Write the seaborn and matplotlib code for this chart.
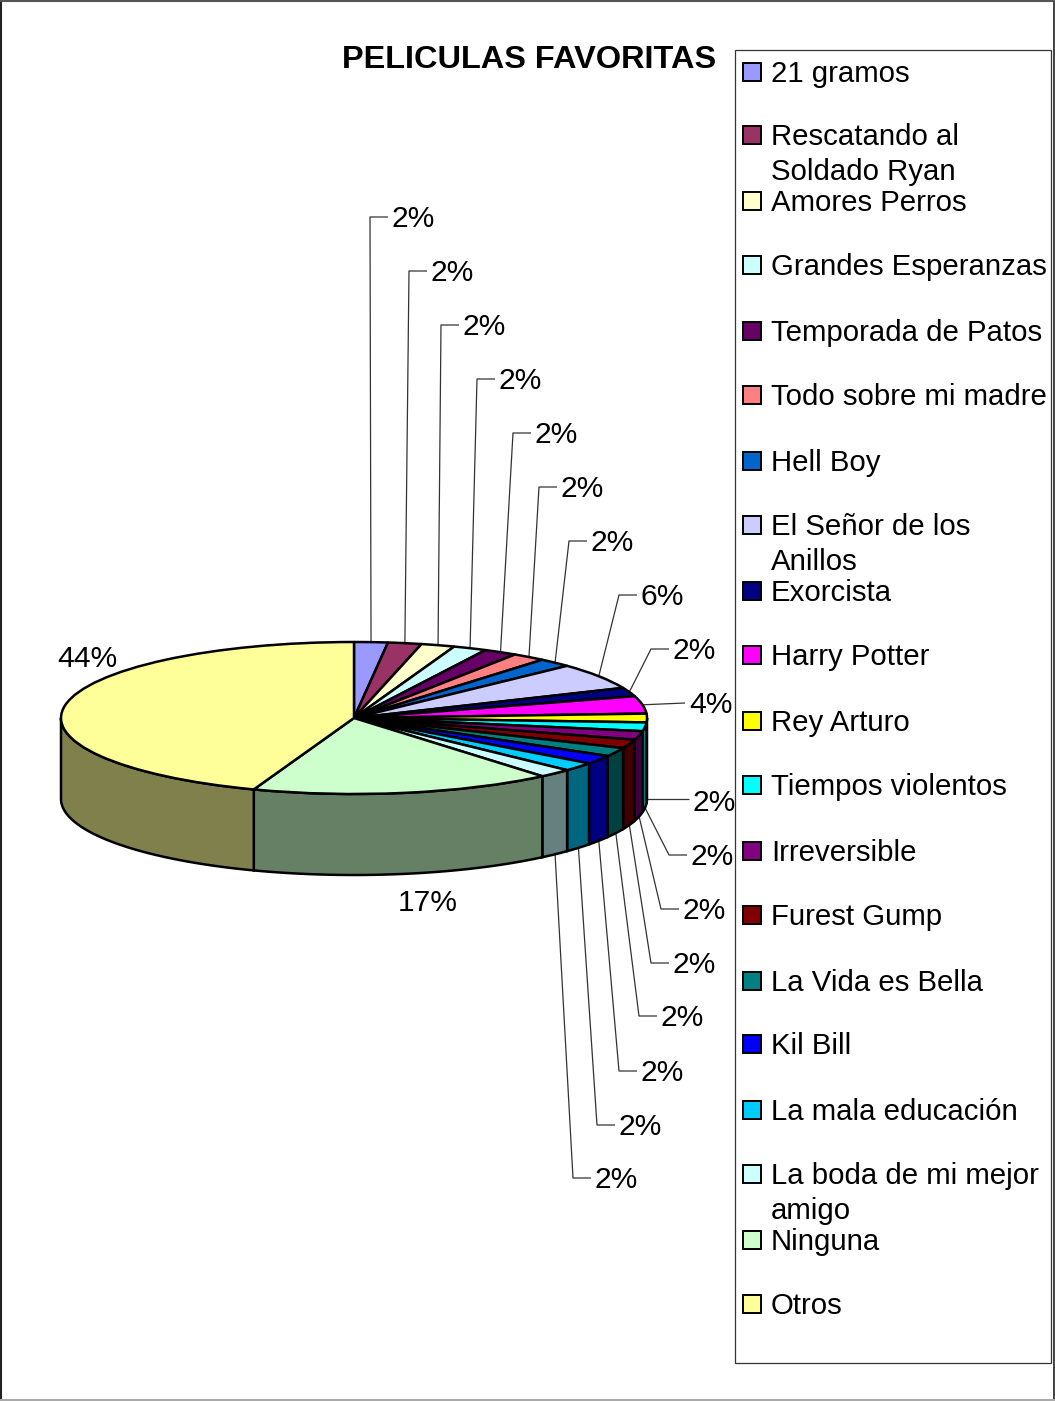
import numpy as np
import matplotlib
matplotlib.use("Agg")
import matplotlib.pyplot as plt
from matplotlib.patches import Rectangle, Polygon
from matplotlib.colors import to_rgb
import seaborn as sns

title = "PELICULAS FAVORITAS"
names = ["21 gramos", "Rescatando al\nSoldado Ryan", "Amores Perros", "Grandes Esperanzas",
         "Temporada de Patos", "Todo sobre mi madre", "Hell Boy", "El Señor de los\nAnillos",
         "Exorcista", "Harry Potter", "Rey Arturo", "Tiempos violentos", "Irreversible",
         "Furest Gump", "La Vida es Bella", "Kil Bill", "La mala educación",
         "La boda de mi mejor\namigo", "Ninguna", "Otros"]
counts = [1, 1, 1, 1, 1, 1, 1, 3, 1, 2, 1, 1, 1, 1, 1, 1, 1, 1, 9, 24]
pct_labels = ["2%", "2%", "2%", "2%", "2%", "2%", "2%", "6%", "2%", "4%", "2%", "2%", "2%",
              "2%", "2%", "2%", "2%", "2%", "17%", "44%"]
colors = ["#9999FF", "#993366", "#FFFFCC", "#CCFFFF", "#660066", "#FF8080", "#0066CC", "#CCCCFF",
          "#000080", "#FF00FF", "#FFFF00", "#00FFFF", "#800080", "#800000", "#008080", "#0000FF",
          "#00CCFF", "#CCFFFF", "#CCFFCC", "#FFFF99"]

# layout (pixels in the image, y downward)
W, H = 1055, 1401
CX, CY, RX, RY, DEPTH = 354, 718, 293, 76, 81
label_xy = [(392, 217), (431, 271), (463, 325), (499, 379), (535, 433), (561, 487), (591, 541),
            (641, 595), (673, 649), (689, 703), (693, 801), (691, 855), (683, 909), (673, 963),
            (661, 1016), (641, 1071), (619, 1125), (595, 1178), (398, 901), (57, 657)]
legend_y = [72, 135, 201, 265, 331, 395, 461, 525, 591, 655, 721, 785, 851, 915, 981, 1044,
            1110, 1174, 1240, 1304]

sns.set_theme(style="white")
plt.rcParams["font.family"] = ["Liberation Sans", "DejaVu Sans"]
palette = sns.color_palette(colors)

fig = plt.figure(figsize=(W / 100, H / 100), dpi=100, facecolor="white")
ax = fig.add_axes([0, 0, 1, 1])

def px(x, y):
    return (x - CX) / RX, (CY - y) / RY

# top face
ax.pie(counts, colors=palette, startangle=90, counterclock=False, radius=1,
       wedgeprops=dict(edgecolor="black", linewidth=1.8, joinstyle="round", zorder=3))
ax.set_aspect("auto")
ax.set_xlim(px(0, 0)[0], px(W, 0)[0])
ax.set_ylim(px(0, H)[1], px(0, 0)[1])
ax.set_axis_off()

# side wall of the visible front half
fracs = np.array(counts) / np.sum(counts) * 360
ends = np.cumsum(fracs)
starts = ends - fracs
d = DEPTH / RY
for a, b, c in zip(starts, ends, palette):
    lo, hi = max(a, 90), min(b, 270)
    if hi <= lo:
        continue
    t = np.radians(np.linspace(lo, hi, 60))
    xs, ys = np.sin(t), np.cos(t)
    verts = np.r_[np.c_[xs, ys], np.c_[xs[::-1], ys[::-1] - d]]
    dark = tuple(v * 0.5 for v in to_rgb(c))
    ax.add_patch(Polygon(verts, closed=True, facecolor=dark, edgecolor="black",
                         linewidth=1.8, zorder=2))

# data labels and their leaders
mids = (starts + ends) / 2
for i, (lab, (lx, ly), m) in enumerate(zip(pct_labels, label_xy, mids)):
    ax.text(*px(lx, ly + 2), lab, fontsize=21.6, color="black", ha="left", va="center", zorder=6)
    if lab in ("17%", "44%"):
        continue
    t = np.radians(m)
    ax_, ay_ = np.sin(t), np.cos(t) - (d if m >= 90 else 0)
    ex, ey = px(lx - 4, ly)
    if lab == "4%":
        xs_, ys_ = [ax_, ex], [ay_, ey]
    elif i == 10:
        xs_, ys_ = [ax_, ex], [ay_, ay_]
    else:
        kx, ky = px(lx - 22, ly)
        xs_, ys_ = [ax_, kx, ex], [ay_, ky, ey]
    ax.plot(xs_, ys_, color="#333333", lw=0.9, zorder=1, solid_capstyle="butt")

# title
ax.text(*px(342, 60), title, fontsize=23.4, fontweight="bold", color="black",
        ha="left", va="center", zorder=6)

# legend box
def rect(x0, y0, x1, y1, **kw):
    (a0, b0), (a1, b1) = px(x0, y1), px(x1, y0)
    ax.add_patch(Rectangle((a0, b0), a1 - a0, b1 - b0, **kw))

rect(735, 50, 1051, 1363, facecolor="white", edgecolor="#333333", linewidth=0.9, zorder=4)
for name, y, c in zip(names, legend_y, palette):
    rect(743, y - 9, 761, y + 9, facecolor=c, edgecolor="black", linewidth=1.4, zorder=5)
    ax.text(*px(771, y - 12), name, fontsize=21.15, color="black", ha="left", va="top",
            linespacing=1.3, zorder=6)

# outer frame
for (x0, y0, x1, y1, col, lw) in [(1, 0, 1, H, "#222222", 1.5), (1054, 0, 1054, H, "#222222", 1.2),
                                  (0, 1, W, 1, "#555555", 1.5), (0, 1400, W, 1400, "#AAAAAA", 1.5)]:
    a, b = px(x0, y0), px(x1, y1)
    ax.plot([a[0], b[0]], [a[1], b[1]], color=col, lw=lw, zorder=7)

fig.savefig("out.png", dpi=100, facecolor="white")
